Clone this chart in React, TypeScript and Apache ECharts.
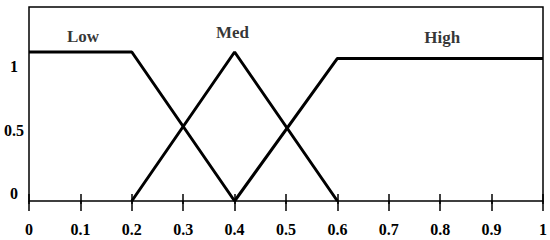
import React, { useEffect, useRef } from "react";
import * as echarts from "echarts";

const lowData: [number, number][] = [[0, 1], [0.2, 1], [0.4, 0]];
const medData: [number, number][] = [[0.2, 0], [0.4, 1], [0.6, 0]];
const highData: [number, number][] = [[0.4, 0], [0.6, 0.957], [1, 0.957]];
const setLabels: [number, number, string][] = [
  [0.105, 1.107, "Low"],
  [0.396, 1.128, "Med"],
  [0.804, 1.094, "High"],
];
const yTickLabels = [0, 0.5, 1];

const FONT = "'Liberation Serif', 'Times New Roman', serif";

export default function App() {
  const ref = useRef<HTMLDivElement>(null);
  useEffect(() => {
    if (!ref.current) return;
    const chart = echarts.init(ref.current, undefined, { renderer: "svg" });
    const lineStyle = { color: "#000", width: 3 };
    chart.setOption({
      animation: false,
      backgroundColor: "#fff",
      grid: {
        left: 29, top: 7, width: 515, height: 194,
        show: true, borderColor: "#000", borderWidth: 1.5, backgroundColor: "transparent",
      },
      xAxis: [
        {
          type: "value", position: "bottom", min: 0, max: 1, interval: 0.1,
          axisLine: { show: false },
          axisTick: { show: true, inside: false, length: 10, lineStyle: { color: "#000", width: 1.5 } },
          axisLabel: { color: "#000", fontFamily: FONT, fontWeight: "bold", fontSize: 16, margin: 20 },
          splitLine: { show: false },
        },
        {
          type: "value", position: "top", min: 0, max: 1, interval: 0.1,
          axisLine: { show: false },
          axisTick: { show: true, inside: true, length: 10, lineStyle: { color: "#000", width: 1.5 } },
          axisLabel: { show: false },
          splitLine: { show: false },
        },
      ],
      yAxis: [
        {
          type: "value", min: 0, max: 1.302,
          axisLine: { show: false }, axisTick: { show: false },
          axisLabel: { show: false }, splitLine: { show: false },
        },
        {
          type: "value", position: "left", min: -0.0547, max: 1.461,
          axisLine: { show: false }, axisTick: { show: false }, splitLine: { show: false },
          axisLabel: {
            customValues: yTickLabels,
            color: "#000", fontFamily: FONT, fontWeight: "bold", fontSize: 16,
            margin: 15, align: "center",
          },
        },
      ],
      series: [
        { name: "Low", type: "line", data: lowData, symbol: "none", lineStyle, xAxisIndex: 0, yAxisIndex: 0 },
        { name: "Med", type: "line", data: medData, symbol: "none", lineStyle, xAxisIndex: 0, yAxisIndex: 0 },
        { name: "High", type: "line", data: highData, symbol: "none", lineStyle, xAxisIndex: 0, yAxisIndex: 0 },
        {
          name: "labels", type: "scatter", data: setLabels, symbolSize: 0, xAxisIndex: 0, yAxisIndex: 0,
          label: {
            show: true, position: "inside", formatter: (p: any) => p.data[2],
            color: "#000", fontFamily: FONT, fontWeight: "bold", fontSize: 17,
          },
        },
      ],
    });
    return () => chart.dispose();
  }, []);
  return <div ref={ref} style={{ position: "fixed", left: 0, top: 0, width: 550, height: 240 }} />;
}
